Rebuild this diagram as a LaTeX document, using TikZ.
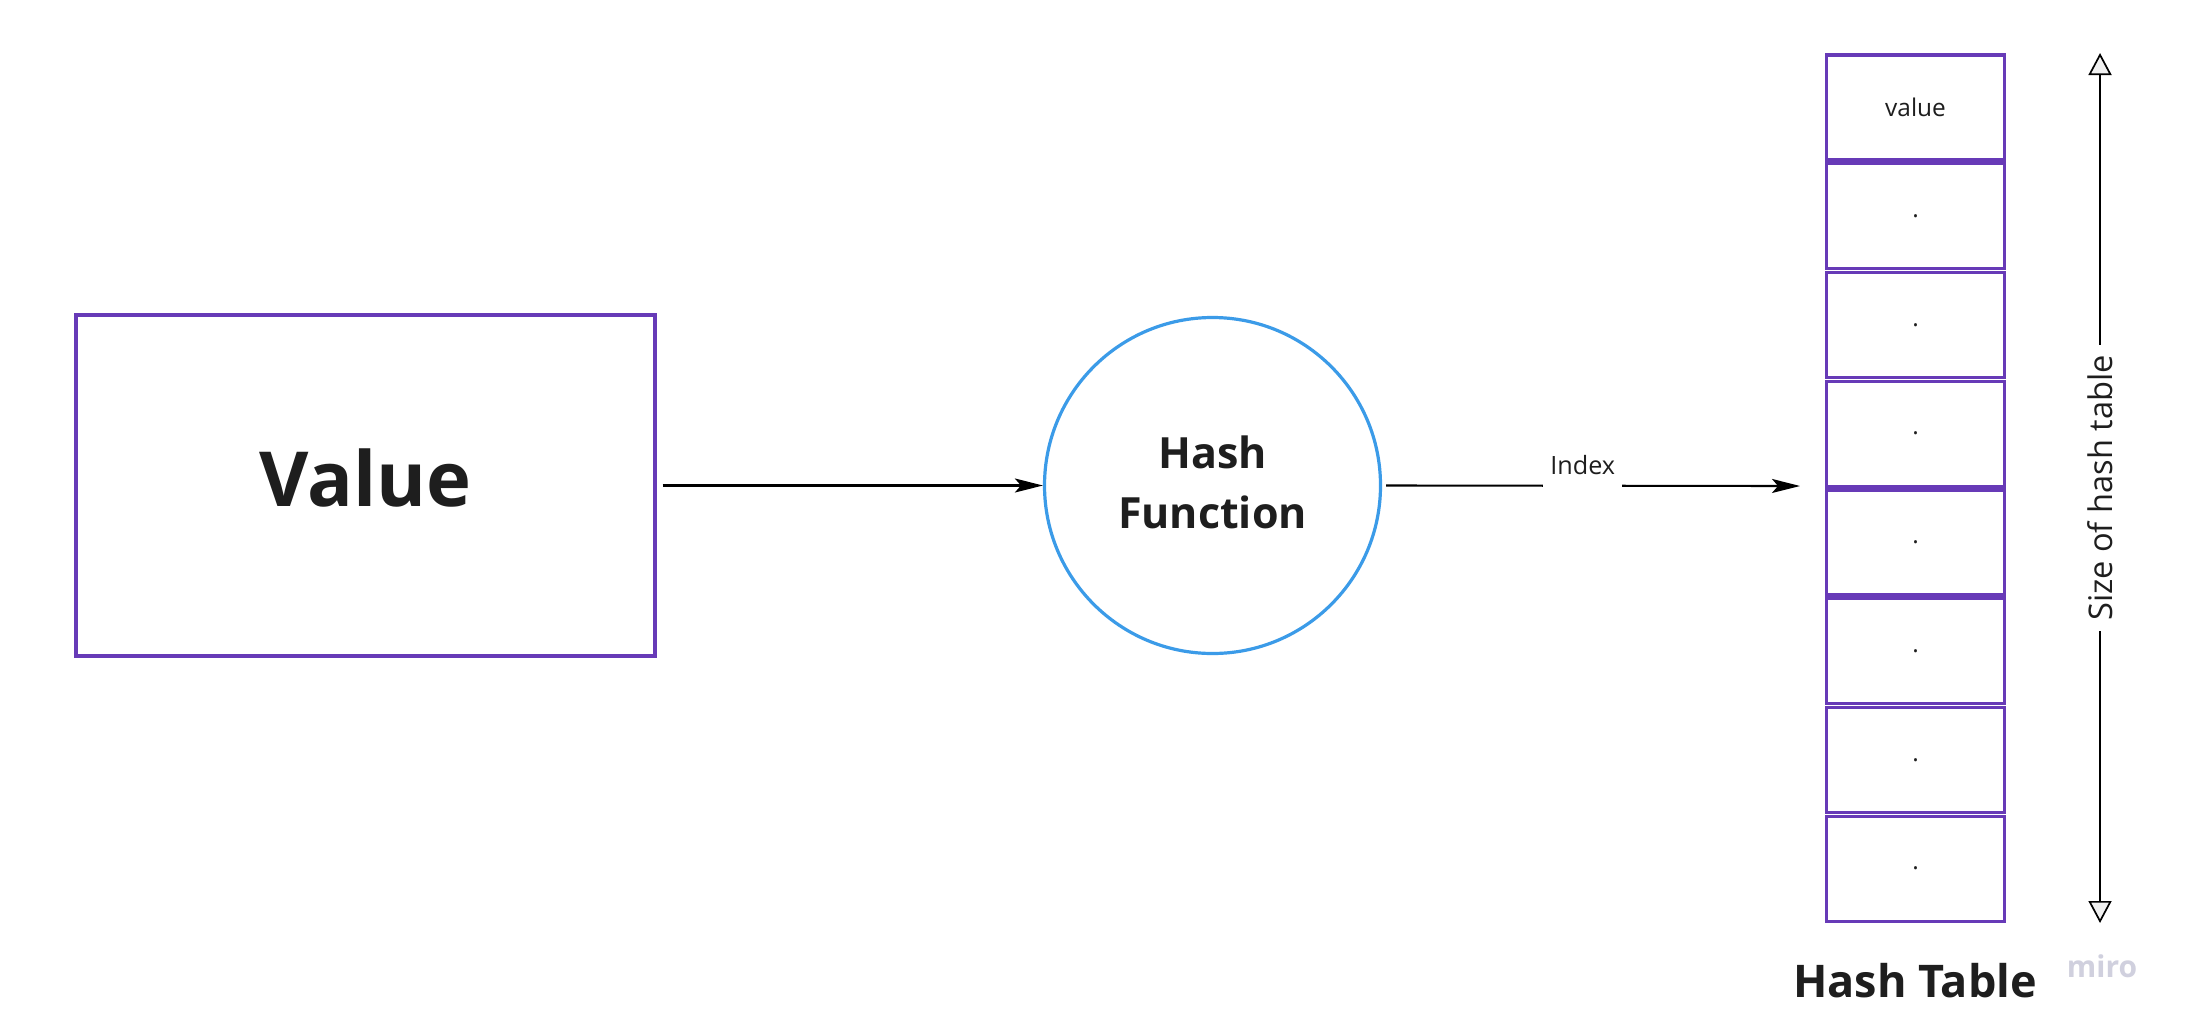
\documentclass[tikz,border=0pt]{standalone}
\usepackage{fontspec}
\setmainfont{Open Sans}
\usetikzlibrary{arrows.meta}
\definecolor{tpurple}{RGB}{103,58,183}
\definecolor{tblue}{RGB}{59,155,232}
\definecolor{tink}{RGB}{30,30,30}
\definecolor{tmiro}{RGB}{208,208,222}
\begin{document}
\begin{tikzpicture}[x=0.5pt,y=-0.5pt,
  cell/.style={draw=tpurple, line width=1.6pt, minimum width=89pt, minimum height=52.5pt, inner sep=0pt, font=\fontsize{12.2}{14}\selectfont, text=tink},
  conn/.style={line width=1.05pt, -{Stealth[length=14pt,width=7pt,inset=3pt]}},
  sizearr/.style={line width=0.85pt, {Triangle[open,length=11pt,width=11.5pt,fill=gray!12]}-{Triangle[open,length=11pt,width=11.5pt,fill=gray!12]}}
]
\useasboundingbox (0,0) rectangle (2187,1028);
\fill[white] (0,0) rectangle (2187,1028);

\node[draw=tpurple, line width=1.6pt, minimum width=289.5pt, minimum height=170.5pt, font=\bfseries\fontsize{38}{46}\selectfont, text=tink, text height=21pt, text depth=0pt] (value) at (365.5,485.5) {Value};

\node[circle, draw=tblue, line width=1.6pt, minimum size=168pt, inner sep=0pt, align=center, font=\bfseries\fontsize{21.5}{30}\selectfont, text=tink] (hash) at (1212.5,485.5) {Hash\\Function\rule[-3pt]{0pt}{0pt}};

\node[cell] (c1) at (1915.5,107.4) {value};
\foreach \i in {2,...,8}
  \node[cell] (c\i) at (1915.5,{107.4+108.75*(\i-1)}) {.};

\coordinate (idx) at (1800,486);
\coordinate (st) at (2100,53);
\coordinate (sb) at (2100,923);

\draw[conn, shorten <=3pt] (value.east) -- (hash.west);
\draw[conn, shorten <=2pt] (hash.east) -- node[pos=0.48, fill=white, anchor=base, yshift=5.5pt, inner xsep=3.5pt, inner ysep=7pt, font=\fontsize{12.6}{14}\selectfont, text=tink] (idxlabel) {Index} (idx);

\draw[sizearr] (st) -- node[fill=white, rotate=90, font=\fontsize{16.3}{18}\selectfont, text=tink, inner xsep=5pt] (sizelabel) {Size of hash table} (sb);

\node[anchor=base, font=\bfseries\fontsize{22.5}{27}\selectfont, text=tink] (title) at (1915,997) {Hash Table};
\node[anchor=base, font=\bfseries\fontsize{15}{18}\selectfont, text=tmiro] (miro) at (2102,977) {miro};
\end{tikzpicture}
\end{document}
